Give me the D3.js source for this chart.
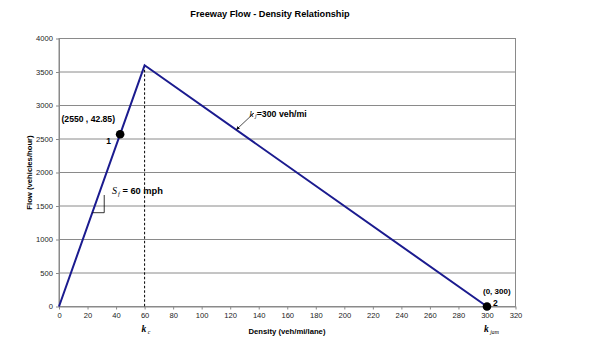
<!DOCTYPE html>
<html><head><meta charset="utf-8">
<script src="https://cdn.jsdelivr.net/npm/d3@7"></script>
<style>body{margin:0;background:#fff;}svg{display:block;font-family:"Liberation Sans",Arial,sans-serif;}</style>
</head><body><svg id="c" width="606" height="342"></svg>
<script>
const density = [0, 60, 300];
const flow = [0, 3600, 0];
const xTicks = [0,20,40,60,80,100,120,140,160,180,200,220,240,260,280,300,320];
const yTicks = [0,500,1000,1500,2000,2500,3000,3500,4000];
const pointK = [42.85, 300];
const pointQ = [2571, 0];
const pointNames = ["1", "2"];

const svg = d3.select("#c");
const x = d3.scaleLinear().domain([0,320]).range([59,515.5]);
const y = d3.scaleLinear().domain([0,4000]).range([306.5,38.5]);

// gridlines
svg.append("g").selectAll("line").data(yTicks.filter(d=>d>0)).join("line")
  .attr("x1",x(0)).attr("x2",x(320)).attr("y1",d=>y(d)).attr("y2",d=>y(d))
  .attr("stroke","#8a8a8a").attr("stroke-width",1);
// frame
svg.append("rect").attr("x",x(0)).attr("y",y(4000)).attr("width",x(320)-x(0)).attr("height",y(0)-y(4000))
  .attr("fill","none").attr("stroke","#8a8a8a").attr("stroke-width",1);

// axes
const xa = svg.append("g").attr("transform",`translate(0,${y(0)})`)
  .call(d3.axisBottom(x).tickValues(xTicks).tickFormat(d3.format("d")).tickSize(3).tickPadding(3).tickSizeOuter(0));
const ya = svg.append("g").attr("transform",`translate(${x(0)},0)`)
  .call(d3.axisLeft(y).tickValues(yTicks).tickFormat(d3.format("d")).tickSize(3).tickPadding(3).tickSizeOuter(0));
[xa,ya].forEach(a=>{
  a.select(".domain").attr("stroke","#8a8a8a");
  a.selectAll(".tick line").attr("stroke","#8a8a8a");
  a.selectAll("text").attr("font-family","Liberation Sans, Arial, sans-serif").attr("font-size",7.6).attr("fill","#222");
});

// dashed line at k_c
svg.append("line").attr("x1",x(60)).attr("x2",x(60)).attr("y1",y(3600)).attr("y2",y(0))
  .attr("stroke","#000").attr("stroke-width",1).attr("stroke-dasharray","2.5,2");

// main line
const line = d3.line().x(d=>x(d[0])).y(d=>y(d[1]));
svg.append("path").datum(density.map((d,i)=>[d,flow[i]])).attr("d",line)
  .attr("fill","none").attr("stroke","#1b1b8f").attr("stroke-width",2).attr("stroke-linejoin","miter");

// slope triangle
svg.append("path").datum([[1400/60,1400],[31.7,1400],[31.7,1664]]).attr("d",line)
  .attr("fill","none").attr("stroke","#000").attr("stroke-width",0.8);

// points
svg.append("g").selectAll("circle").data(pointK.map((k,i)=>[k,pointQ[i]])).join("circle")
  .attr("cx",d=>x(d[0])).attr("cy",d=>y(d[1])).attr("r",4.3).attr("fill","#000");

// title
svg.append("text").attr("x",270).attr("y",17).attr("text-anchor","middle")
  .attr("font-size",9.2).attr("font-weight","bold").text("Freeway Flow - Density Relationship");
// axis titles
svg.append("text").attr("x",287).attr("y",334).attr("text-anchor","middle")
  .attr("font-size",7.7).attr("font-weight","bold").text("Density (veh/mi/lane)");
svg.append("text").attr("transform","translate(31.5,172.5) rotate(-90)").attr("text-anchor","middle")
  .attr("font-size",7.7).attr("font-weight","bold").text("Flow (vehicles/hour)");

// annotations
svg.append("text").attr("x",61.5).attr("y",121.5).attr("font-size",8.6).attr("font-weight","bold").text("(2550 , 42.85)");
svg.append("text").attr("x",x(pointK[0])-14).attr("y",y(pointQ[0])+9.5).attr("font-size",8.5).attr("font-weight","bold").text(pointNames[0]);
svg.append("text").attr("x",x(pointK[1])+6).attr("y",y(pointQ[1])-0.5).attr("font-size",8.5).attr("font-weight","bold").text(pointNames[1]);
svg.append("text").attr("x",483).attr("y",294).attr("font-size",8).attr("font-weight","bold").text("(0, 300)");

const sf = svg.append("text").attr("x",112).attr("y",194).attr("font-size",9.3);
sf.append("tspan").attr("font-family","Liberation Serif, Times New Roman, serif").attr("font-style","italic").attr("font-size",10).text("S");
sf.append("tspan").attr("font-family","Liberation Serif, Times New Roman, serif").attr("font-style","italic").attr("font-size",6.5).attr("dy",1.5).attr("dx",1).text("f");
sf.append("tspan").attr("dy",-1.5).attr("font-weight","bold").text(" = 60 mph");

const kj = svg.append("text").attr("x",249.5).attr("y",116.5).attr("font-size",8.8);
kj.append("tspan").attr("font-family","Liberation Serif, Times New Roman, serif").attr("font-style","italic").attr("font-size",9).text("k");
kj.append("tspan").attr("font-family","Liberation Serif, Times New Roman, serif").attr("font-style","italic").attr("font-size",6).attr("dy",1.5).attr("dx",1.5).text("j");
kj.append("tspan").attr("dy",-1.5).attr("font-weight","bold").text("=300 veh/mi");

// arrow
svg.append("defs").append("marker").attr("id","ah").attr("viewBox","0 0 10 10").attr("refX",9).attr("refY",5)
  .attr("markerWidth",5).attr("markerHeight",5).attr("orient","auto")
  .append("path").attr("d","M0,0L10,5L0,10z").attr("fill","#000");
svg.append("line").attr("x1",254).attr("y1",113).attr("x2",236.5).attr("y2",129.5)
  .attr("stroke","#000").attr("stroke-width",0.7).attr("marker-end","url(#ah)");

// k_c and k_jam labels
function kLabel(xv, sub){
  const t = svg.append("text").attr("x",x(xv)-3).attr("y",332).attr("font-family","Liberation Serif, Times New Roman, serif").attr("font-style","italic");
  t.append("tspan").attr("font-size",9.5).attr("font-weight","bold").text("k");
  t.append("tspan").attr("font-size",5.8).attr("dy",1.5).attr("dx",1.5).text(sub);
}
kLabel(60,"c");
kLabel(300,"jam");
</script></body></html>
